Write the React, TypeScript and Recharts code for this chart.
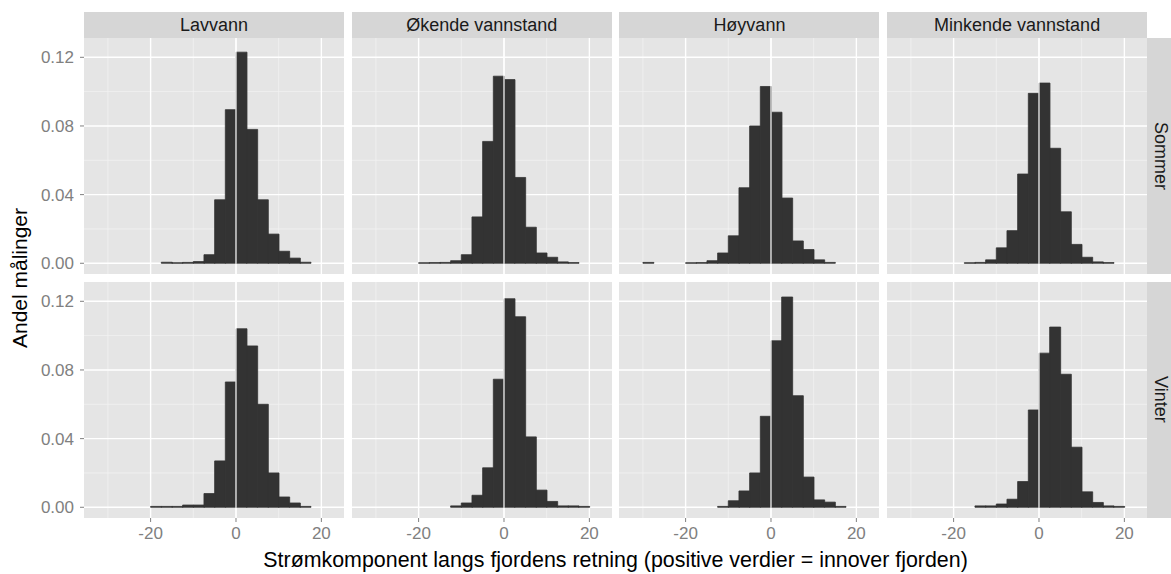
import React from "react";
import { BarChart, Bar, XAxis, YAxis, CartesianGrid, ReferenceLine } from "recharts";

// bin centres (binwidth 2.5)
const binCenters = [
  -28.75, -26.25, -23.75, -21.25, -18.75, -16.25, -13.75, -11.25, -8.75, -6.25,
  -3.75, -1.25, 1.25, 3.75, 6.25, 8.75, 11.25, 13.75, 16.25, 18.75,
];

const lavvannSommer = [0, 0, 0, 0, 0, 0.0006, 0.0003, 0.0005, 0.001, 0.005, 0.037, 0.0895, 0.123, 0.078, 0.037, 0.017, 0.007, 0.003, 0.0006, 0];
const okendeSommer = [0, 0, 0, 0, 0.0003, 0.0004, 0.0005, 0.0015, 0.005, 0.027, 0.071, 0.109, 0.107, 0.05, 0.021, 0.006, 0.0035, 0.0008, 0.0004, 0];
const hoyvannSommer = [0.0005, 0, 0, 0, 0.0003, 0.0004, 0.0015, 0.006, 0.016, 0.044, 0.08, 0.103, 0.088, 0.038, 0.013, 0.008, 0.002, 0.0005, 0, 0];
const minkendeSommer = [0, 0, 0, 0, 0, 0.0003, 0.0005, 0.002, 0.009, 0.019, 0.052, 0.099, 0.105, 0.067, 0.03, 0.011, 0.0035, 0.0008, 0.0004, 0];

const lavvannVinter = [0, 0, 0, 0, 0.0005, 0.0005, 0.0005, 0.0013, 0.0013, 0.008, 0.027, 0.073, 0.104, 0.094, 0.06, 0.02, 0.006, 0.0025, 0.0005, 0];
const okendeVinter = [0, 0, 0, 0, 0, 0, 0, 0.0008, 0.0025, 0.007, 0.023, 0.0746, 0.1215, 0.111, 0.041, 0.01, 0.0034, 0.0008, 0.0008, 0.0005];
const hoyvannVinter = [0, 0, 0, 0, 0, 0, 0, 0.0005, 0.0038, 0.0095, 0.02, 0.053, 0.097, 0.1225, 0.065, 0.0176, 0.0043, 0.003, 0.0005, 0];
const minkendeVinter = [0, 0, 0, 0, 0, 0, 0.0008, 0.0008, 0.0019, 0.0047, 0.015, 0.0567, 0.0898, 0.105, 0.0775, 0.035, 0.009, 0.0028, 0.0008, 0.0005];

const colLabels = ["Lavvann", "Økende vannstand", "Høyvann", "Minkende vannstand"];
const rowLabels = ["Sommer", "Vinter"];
const panelValues = [
  [lavvannSommer, okendeSommer, hoyvannSommer, minkendeSommer],
  [lavvannVinter, okendeVinter, hoyvannVinter, minkendeVinter],
];

const xTicks = [-20, 0, 20];
const xMinor = [-30, -10, 10];
const yTicks = [0, 0.04, 0.08, 0.12];
const yMinor = [0.02, 0.06, 0.1];

const X_DOMAIN: [number, number] = [-35.6, 25.3];
const Y_DOMAIN: [number, number] = [-0.00625, 0.13125];

const PLOT_W = 260;
const PLOT_H = 236;
const GAP = 7.7;
const LEFT = 84;
const TOP = 38;
const Y_AXIS_W = 56;
const X_AXIS_H = 34;
const STRIP = 26;

const FONT = "'Liberation Sans', Arial, Helvetica, sans-serif";
const PANEL_BG = "#e5e5e5";
const STRIP_BG = "#d6d6d6";
const TICK_COL = "#808080";
const BAR_COL = "#333333";

function Panel({ values, left, bottom }: { values: number[]; left: boolean; bottom: boolean }) {
  const rows = binCenters.map((x, i) => ({ x, y: values[i] }));
  return (
    <BarChart
      width={PLOT_W + (left ? Y_AXIS_W : 0)}
      height={PLOT_H + (bottom ? X_AXIS_H : 0)}
      data={rows}
      margin={{ top: 0, right: 0, bottom: 0, left: 0 }}
      barCategoryGap={0}
      barGap={0}
    >
      <CartesianGrid fill={PANEL_BG} stroke="#f2f2f2" strokeWidth={0.8} horizontalValues={yMinor} verticalValues={xMinor} />
      <CartesianGrid stroke="#ffffff" strokeWidth={1.4} horizontalValues={yTicks} verticalValues={xTicks} />
      <XAxis
        type="number"
        dataKey="x"
        domain={X_DOMAIN}
        ticks={xTicks}
        allowDataOverflow
        hide={!bottom}
        height={X_AXIS_H}
        axisLine={false}
        tickSize={4}
        tickMargin={5}
        tickLine={{ stroke: TICK_COL }}
        tick={{ fill: TICK_COL, fontSize: 17, fontFamily: FONT }}
      />
      <YAxis
        type="number"
        domain={Y_DOMAIN}
        ticks={yTicks}
        allowDataOverflow
        hide={!left}
        width={Y_AXIS_W}
        axisLine={false}
        tickSize={4}
        tickMargin={6}
        tickLine={{ stroke: TICK_COL }}
        tickFormatter={(v: number) => v.toFixed(2)}
        tick={{ fill: TICK_COL, fontSize: 17, fontFamily: FONT }}
      />
      <Bar dataKey="y" fill={BAR_COL} stroke={BAR_COL} strokeWidth={0.8} isAnimationActive={false} />
      <ReferenceLine x={0} stroke="#ffffff" strokeWidth={1.2} />
    </BarChart>
  );
}

export default function App() {
  return (
    <div
      style={{
        position: "absolute",
        left: 0,
        top: 0,
        width: 1171,
        height: 574,
        background: "#ffffff",
        overflow: "hidden",
        fontFamily: FONT,
      }}
    >
      {colLabels.map((label, c) => (
        <div
          key={label}
          style={{
            position: "absolute",
            left: LEFT + c * (PLOT_W + GAP),
            top: TOP - STRIP,
            width: PLOT_W,
            height: STRIP,
            background: STRIP_BG,
            color: "#1a1a1a",
            fontSize: 18,
            lineHeight: `${STRIP}px`,
            textAlign: "center",
          }}
        >
          {label}
        </div>
      ))}
      {rowLabels.map((label, r) => (
        <div
          key={label}
          style={{
            position: "absolute",
            left: LEFT + 4 * PLOT_W + 3 * GAP,
            top: TOP + r * (PLOT_H + GAP),
            width: STRIP,
            height: PLOT_H,
            background: STRIP_BG,
            color: "#1a1a1a",
            fontSize: 18,
            display: "flex",
            alignItems: "center",
            justifyContent: "center",
          }}
        >
          <span style={{ writingMode: "vertical-rl", whiteSpace: "nowrap" }}>{label}</span>
        </div>
      ))}
      {panelValues.map((rowVals, r) =>
        rowVals.map((vals, c) => (
          <div
            key={`${r}-${c}`}
            style={{
              position: "absolute",
              left: LEFT + c * (PLOT_W + GAP) - (c === 0 ? Y_AXIS_W : 0),
              top: TOP + r * (PLOT_H + GAP),
            }}
          >
            <Panel values={vals} left={c === 0} bottom={r === 1} />
          </div>
        ))
      )}
      <div
        style={{
          position: "absolute",
          left: LEFT,
          width: 4 * PLOT_W + 3 * GAP,
          top: 548,
          textAlign: "center",
          fontSize: 21.4,
          color: "#000000",
          whiteSpace: "nowrap",
        }}
      >
        Strømkomponent langs fjordens retning (positive verdier = innover fjorden)
      </div>
      <div
        style={{
          position: "absolute",
          left: 20,
          top: TOP + PLOT_H + GAP / 2,
          transform: "translate(-50%, -50%) rotate(-90deg)",
          fontSize: 21,
          color: "#000000",
          whiteSpace: "nowrap",
        }}
      >
        Andel målinger
      </div>
    </div>
  );
}
